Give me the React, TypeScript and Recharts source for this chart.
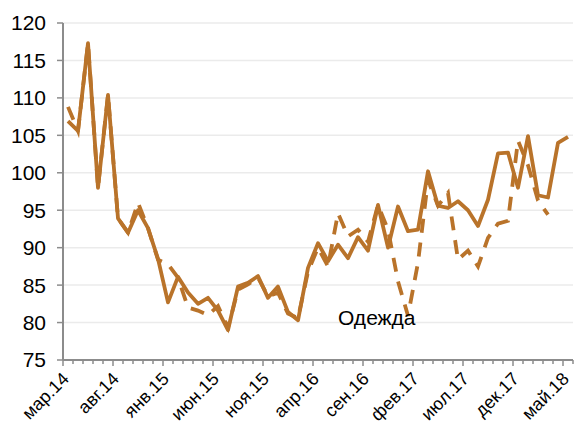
import React from "react"
import { LineChart, Line, XAxis, YAxis, CartesianGrid } from "recharts"

const COLOR = "#B9732A"
const AXIS = "#8C8C8C"
const FONT = "'Liberation Sans', Arial, sans-serif"

const months: string[] = [
  "мар.14", "апр.14", "май.14", "июн.14", "июл.14", "авг.14", "сен.14", "окт.14", "ноя.14", "дек.14",
  "янв.15", "фев.15", "мар.15", "апр.15", "май.15", "июн.15", "июл.15", "авг.15", "сен.15", "окт.15", "ноя.15", "дек.15",
  "янв.16", "фев.16", "мар.16", "апр.16", "май.16", "июн.16", "июл.16", "авг.16", "сен.16", "окт.16", "ноя.16", "дек.16",
  "янв.17", "фев.17", "мар.17", "апр.17", "май.17", "июн.17", "июл.17", "авг.17", "сен.17", "окт.17", "ноя.17", "дек.17",
  "янв.18", "фев.18", "мар.18", "апр.18", "май.18",
]

// solid line
const solid: number[] = [
  106.9, 105.6, 117.3, 98.0, 110.4, 93.9, 92.0, 95.0, 92.6, 88.5,
  82.7, 86.1, 84.0, 82.5, 83.3, 81.6, 79.0, 84.8, 85.3, 86.2,
  83.3, 84.8, 81.4, 80.3, 87.3, 90.6, 88.2, 90.4, 88.6, 91.4,
  89.6, 95.7, 90.0, 95.5, 92.2, 92.4, 100.2, 95.6, 95.3, 96.2,
  95.0, 92.9, 96.4, 102.6, 102.7, 98.0, 104.9, 97.0, 96.7, 104.0,
  104.8,
]

// dashed line
const dashed: (number | null)[] = [
  108.8, 105.6, 117.3, 98.0, 110.4, 93.9, 92.0, 96.0, 92.6, 88.4,
  87.8, 86.0, 82.0, 81.6, 81.0, 82.2, 79.3, 84.4, 85.1, 86.0,
  83.5, 84.0, 81.2, 80.6, 86.8, 90.0, 87.5, 94.6, 91.5, 92.4,
  90.8, 95.7, 92.4, 85.5, 80.9, 88.0, 99.0, 95.6, 97.3, 88.4,
  89.6, 87.5, 91.3, 93.2, 93.6, 104.3, 101.0, 96.3, 94.4, null,
  null,
]

const yTicks: number[] = [75, 80, 85, 90, 95, 100, 105, 110, 115, 120]

const data = months.map((m, i) => ({ label: m, solid: solid[i], dashed: dashed[i] }))

const XTick = (props: any) => {
  const { x, y, payload } = props
  const i: number = payload.index
  const major = i % 5 === 0
  const bx = x - 5
  const ax = x + 2
  const ay = y + 20
  return (
    <g>
      <line x1={bx} y1={y} x2={bx} y2={y + (major ? 6 : 4)} stroke={AXIS} strokeWidth={1.5} />
      {i === months.length - 1 && (
        <line x1={x + 5} y1={y} x2={x + 5} y2={y + 4} stroke={AXIS} strokeWidth={1.5} />
      )}
      {major && (
        <text
          x={ax}
          y={ay}
          transform={`rotate(-45 ${ax} ${ay})`}
          textAnchor="end"
          fontSize={18}
          fontFamily={FONT}
          fill="#000"
        >
          {payload.value}
        </text>
      )}
    </g>
  )
}

export default function App() {
  return (
    <div style={{ position: "absolute", left: 0, top: 0, width: 575, height: 426, background: "#fff" }}>
      <LineChart width={575} height={426} data={data} margin={{ top: 23, right: 2, bottom: 0, left: 0 }}>
        <CartesianGrid vertical={false} stroke="#EBEBEB" strokeWidth={1.5} />
        <XAxis
          dataKey="label"
          interval={0}
          height={66}
          padding={{ left: 5, right: 5 }}
          tickLine={false}
          tickSize={0}
          tickMargin={0}
          axisLine={{ stroke: AXIS, strokeWidth: 2 }}
          tick={<XTick />}
        />
        <YAxis
          domain={[75, 120]}
          ticks={yTicks}
          width={63}
          tickSize={6}
          tickMargin={11}
          tickLine={{ stroke: AXIS, strokeWidth: 1.5 }}
          axisLine={{ stroke: AXIS, strokeWidth: 2 }}
          tick={{ fontSize: 21, fill: "#000", fontFamily: FONT }}
        />
        <Line
          dataKey="dashed"
          stroke={COLOR}
          strokeWidth={3.8}
          strokeDasharray="14 10"
          dot={false}
          isAnimationActive={false}
        />
        <Line
          dataKey="solid"
          stroke={COLOR}
          strokeWidth={3.8}
          strokeLinejoin="round"
          dot={false}
          isAnimationActive={false}
        />
      </LineChart>
      <div
        style={{
          position: "absolute",
          left: 338,
          top: 305,
          fontSize: 21,
          fontFamily: FONT,
          color: "#000",
          lineHeight: "25px",
        }}
      >
        Одежда
      </div>
    </div>
  )
}
